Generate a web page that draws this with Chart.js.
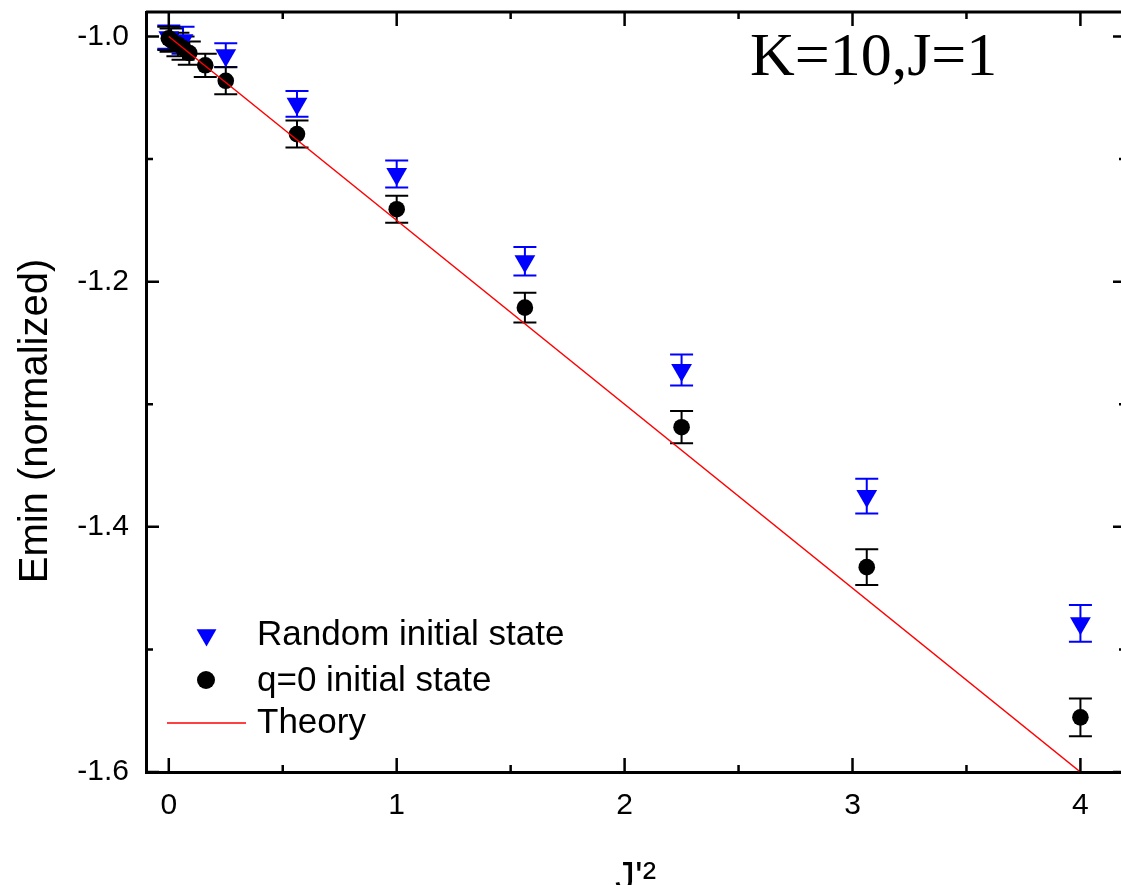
<!DOCTYPE html>
<html>
<head>
<meta charset="utf-8">
<script src="https://cdn.jsdelivr.net/npm/chart.js@4"></script>
<style>
  html, body { margin: 0; padding: 0; background: #fff; overflow: hidden; }
  #wrap { width: 1140px; height: 885px; }
</style>
</head>
<body>
<div id="wrap"><canvas id="eminChart" width="1140" height="885"></canvas></div>
<script>
// Data
const qZeroX = [0, 0.01, 0.04, 0.0625, 0.09, 0.16, 0.25, 0.5625, 1, 1.5625, 2.25, 3.0625, 4];
const qZeroY = [-1.0015, -1.003, -1.0065, -1.0095, -1.0135, -1.0235, -1.0361, -1.0796, -1.1409, -1.2212, -1.3187, -1.4329, -1.5554];
const qZeroErr = [0.0095, 0.0095, 0.0095, 0.0095, 0.0095, 0.0095, 0.011, 0.011, 0.011, 0.0122, 0.0131, 0.0146, 0.0154];

const randomX = [0, 0.0625, 0.25, 0.5625, 1, 1.5625, 2.25, 3.0625, 4];
const randomY = [-1.0005, -1.003, -1.0152, -1.0549, -1.1121, -1.1833, -1.2721, -1.3749, -1.4787];
const randomErr = [0.0095, 0.011, 0.0097, 0.0105, 0.011, 0.0116, 0.0126, 0.0142, 0.015];

const theoryX = [0, 4];
const theoryY = [-1.0, -1.6];

const xMajor = [0, 1, 2, 3, 4];
const xMinor = [0.5, 1.5, 2.5, 3.5];
const yMajor = [-1.6, -1.4, -1.2, -1.0];
const yMinor = [-1.5, -1.3, -1.1];

const seriesLabels = ['Random initial state', 'q=0 initial state', 'Theory'];

function toPoints(xs, ys) {
    return xs.map((v, i) => ({ x: v, y: ys[i] }));
}

Chart.defaults.font.family = "'Liberation Sans', Arial, sans-serif";
Chart.defaults.color = '#000';

// Error bars drawn under the markers
const errorBars = {
    id: 'errorBars',
    beforeDatasetsDraw(chart) {
        const { ctx, scales: { x, y } } = chart;
        chart.data.datasets.forEach(ds => {
            if (!ds.errors) return;
            ctx.save();
            ctx.strokeStyle = ds.backgroundColor;
            ctx.lineWidth = 2;
            ds.data.forEach((p, j) => {
                const px = x.getPixelForValue(p.x);
                const top = y.getPixelForValue(p.y + ds.errors[j]);
                const bot = y.getPixelForValue(p.y - ds.errors[j]);
                ctx.beginPath();
                ctx.moveTo(px, top); ctx.lineTo(px, bot);
                ctx.moveTo(px - 11.5, top); ctx.lineTo(px + 11.5, top);
                ctx.moveTo(px - 11.5, bot); ctx.lineTo(px + 11.5, bot);
                ctx.stroke();
            });
            ctx.restore();
        });
    }
};

// Frame, inward ticks, titles, legend and annotation
const decorations = {
    id: 'decorations',
    afterDraw(chart) {
        const { ctx, chartArea: a, scales: { x, y } } = chart;
        ctx.save();
        ctx.strokeStyle = '#000';
        ctx.lineWidth = 3;
        ctx.beginPath();
        ctx.moveTo(a.left, a.top); ctx.lineTo(a.right, a.top); ctx.lineTo(a.right, a.bottom);
        ctx.stroke();

        ctx.lineWidth = 2.5;
        x.ticks.forEach(t => {
            const px = x.getPixelForValue(t.value);
            const len = xMajor.includes(t.value) ? 14 : 7;
            ctx.beginPath();
            ctx.moveTo(px, a.bottom); ctx.lineTo(px, a.bottom - len);
            ctx.moveTo(px, a.top); ctx.lineTo(px, a.top + len);
            ctx.stroke();
        });
        y.ticks.forEach(t => {
            const py = y.getPixelForValue(t.value);
            const len = yMajor.includes(t.value) ? 13 : 7;
            ctx.beginPath();
            ctx.moveTo(a.left, py); ctx.lineTo(a.left + len, py);
            ctx.moveTo(a.right, py); ctx.lineTo(a.right - len, py);
            ctx.stroke();
        });

        // axis titles
        ctx.fillStyle = '#000';
        ctx.font = "40px 'Liberation Sans', Arial, sans-serif";
        ctx.textAlign = 'left';
        ctx.textBaseline = 'alphabetic';
        ctx.fillText("J'\u00B2", 615, 890);

        ctx.save();
        ctx.translate(36, 421);
        ctx.rotate(-Math.PI / 2);
        ctx.textAlign = 'center';
        ctx.textBaseline = 'middle';
        ctx.fillText('Emin (normalized)', 0, 0);
        ctx.restore();

        // annotation
        ctx.font = "62px 'Liberation Serif', 'Times New Roman', serif";
        ctx.textAlign = 'left';
        ctx.textBaseline = 'alphabetic';
        ctx.fillText('K=10,J=1', 750, 75);

        // legend
        const rows = [635, 681, 723];
        ctx.font = "35px 'Liberation Sans', Arial, sans-serif";
        ctx.textBaseline = 'middle';
        chart.data.datasets.forEach((ds, i) => {
            const ry = rows[i];
            if (ds.pointStyle === 'triangle') {
                const r = 11.5, cx = 206.5;
                ctx.fillStyle = ds.backgroundColor;
                ctx.beginPath();
                ctx.moveTo(cx, ry + r);
                ctx.lineTo(cx - r * Math.sqrt(3) / 2, ry - r / 2);
                ctx.lineTo(cx + r * Math.sqrt(3) / 2, ry - r / 2);
                ctx.closePath();
                ctx.fill();
            } else if (ds.pointStyle === 'circle') {
                ctx.fillStyle = ds.backgroundColor;
                ctx.beginPath();
                ctx.arc(206, ry - 1, 9, 0, Math.PI * 2);
                ctx.fill();
            } else {
                ctx.strokeStyle = ds.borderColor;
                ctx.lineWidth = 1.5;
                ctx.beginPath();
                ctx.moveTo(167, ry); ctx.lineTo(246, ry);
                ctx.stroke();
            }
            ctx.fillStyle = '#000';
            ctx.fillText(ds.label, 257, ry);
        });
        ctx.restore();
    }
};

const ctx = document.getElementById('eminChart');
new Chart(ctx, {
    type: 'scatter',
    data: {
        datasets: [
            {
                label: seriesLabels[0],
                data: toPoints(randomX, randomY),
                errors: randomErr,
                pointStyle: 'triangle',
                rotation: 180,
                pointRadius: 12,
                pointBorderWidth: 0,
                backgroundColor: '#0000ff',
                borderColor: '#0000ff',
                order: 2
            },
            {
                label: seriesLabels[1],
                data: toPoints(qZeroX, qZeroY),
                errors: qZeroErr,
                pointStyle: 'circle',
                pointRadius: 8.3,
                pointBorderWidth: 0,
                backgroundColor: '#000000',
                borderColor: '#000000',
                order: 1
            },
            {
                label: seriesLabels[2],
                data: toPoints(theoryX, theoryY),
                showLine: true,
                pointRadius: 0,
                borderColor: '#ff0000',
                backgroundColor: '#ff0000',
                borderWidth: 1.5,
                order: 0
            }
        ]
    },
    options: {
        responsive: false,
        animation: false,
        layout: { padding: { top: 8, right: 14, left: 0, bottom: 0 } },
        plugins: {
            legend: { display: false },
            tooltip: { enabled: false }
        },
        scales: {
            x: {
                type: 'linear',
                min: -0.1,
                max: 4.2,
                grid: { display: false, drawTicks: false },
                border: { display: true, color: '#000', width: 3 },
                afterBuildTicks: function(scale) {
                    scale.ticks = xMajor.concat(xMinor).sort((p, q) => p - q).map(v => ({ value: v }));
                },
                afterFit: function(scale) {
                    scale.height = 113;
                    scale.paddingLeft = 0;
                    scale.paddingRight = 0;
                },
                ticks: {
                    autoSkip: false,
                    maxRotation: 0,
                    padding: 16,
                    font: { size: 30 },
                    callback: function(value) {
                        return xMajor.includes(value) ? String(value) : '';
                    }
                }
            },
            y: {
                type: 'linear',
                min: -1.6,
                max: -0.98,
                grid: { display: false, drawTicks: false },
                border: { display: true, color: '#000', width: 3 },
                afterBuildTicks: function(scale) {
                    scale.ticks = yMajor.concat(yMinor).sort((p, q) => p - q).map(v => ({ value: v }));
                },
                afterFit: function(scale) {
                    scale.width = 146;
                    scale.paddingTop = 0;
                    scale.paddingBottom = 0;
                },
                ticks: {
                    autoSkip: false,
                    padding: 17,
                    font: { size: 30 },
                    callback: function(value) {
                        return yMajor.includes(value) ? value.toFixed(1) : '';
                    }
                }
            }
        }
    },
    plugins: [errorBars, decorations]
});
</script>
</body>
</html>
